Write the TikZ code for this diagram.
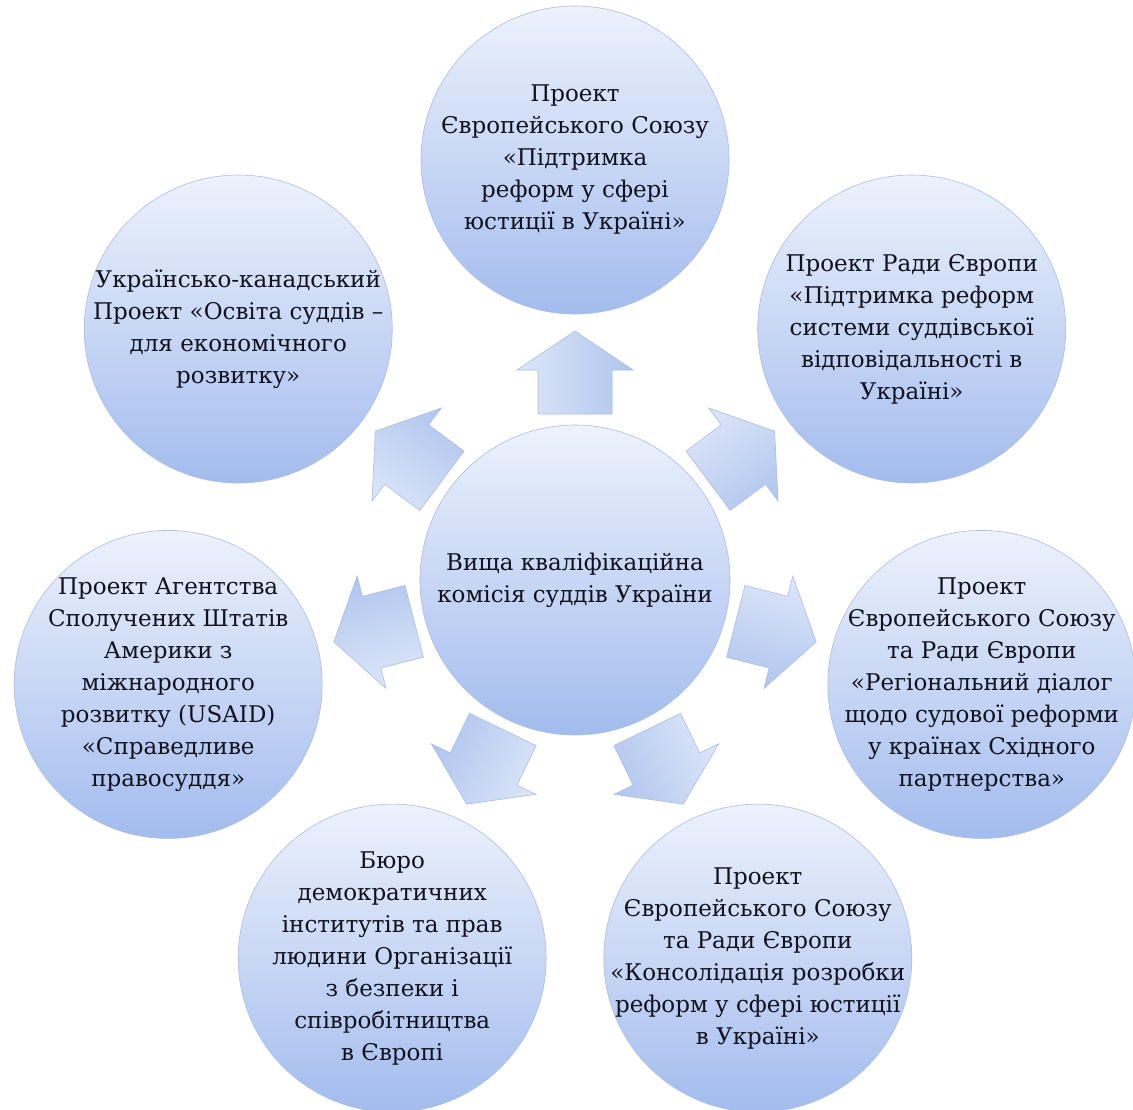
\documentclass[tikz,border=0pt]{standalone}
\usepackage{fontspec}
\setmainfont{DejaVu Serif}
\usetikzlibrary{calc}
\definecolor{ctop}{HTML}{EDF2FC}
\definecolor{cbot}{HTML}{A3BCEE}
\definecolor{cedge}{HTML}{AEBCDC}
\definecolor{atxt}{HTML}{12121E}
\definecolor{aleft}{HTML}{DDE7F9}
\definecolor{aright}{HTML}{AFC5EF}
\tikzset{
  bub/.style={circle, minimum size=308pt, inner sep=0pt, top color=ctop, bottom color=cbot,
    draw=cedge, line width=0.6pt},
  hub/.style={bub, minimum size=310pt},
  txt/.style={align=center, text=atxt, inner sep=0pt, font=\fontsize{23}{32}\selectfont},
  blockarrow/.style={left color=aleft, right color=aright, draw=cedge, line width=0.6pt, line join=miter},
}
\begin{document}
\begin{tikzpicture}[x=1pt,y=1pt]
\useasboundingbox (0,0) rectangle (1133,-1109);
\fill[white] (0,0) rectangle (1133,-1109);
\node[hub] (ctr) at (575,-580) {};
\node[bub] (p1) at ($(ctr.center)+(90:420)$) {};
\node[bub] (p2) at ($(ctr.center)+(36.7:420)$) {};
\node[bub] (p3) at ($(ctr.center)+(-14.4:420)$) {};
\node[bub] (p4) at ($(ctr.center)+(-64.2:420)$) {};
\node[bub] (p5) at ($(ctr.center)+(-115.8:420)$) {};
\node[bub] (p6) at ($(ctr.center)+(-165.6:420)$) {};
\node[bub] (p7) at ($(ctr.center)+(143.3:420)$) {};
\node[txt] (t0) at (ctr.center) {Вища кваліфікаційна\\комісія суддів України};
\node[txt] (t1) at (p1.center) {Проект\\Європейського Союзу\\«Підтримка\\реформ у сфері\\юстиції в Україні»};
\node[txt] (t2) at (p2.center) {Проект Ради Європи\\«Підтримка реформ\\системи суддівської\\відповідальності в\\Україні»};
\node[txt] (t3) at (p3.center) {Проект\\Європейського Союзу\\та Ради Європи\\«Регіональний діалог\\щодо судової реформи\\у країнах Східного\\партнерства»};
\node[txt] (t4) at (p4.center) {Проект\\Європейського Союзу\\та Ради Європи\\«Консолідація розробки\\реформ у сфері юстиції\\в Україні»};
\node[txt] (t5) at (p5.center) {Бюро\\демократичних\\інститутів та прав\\людини Організації\\з безпеки і\\співробітництва\\в Європі};
\node[txt] (t6) at (p6.center) {Проект Агентства\\Сполучених Штатів\\Америки з\\міжнародного\\розвитку (USAID)\\«Справедливе\\правосуддя»};
\node[txt] (t7) at (p7.center) {Українсько-канадський\\Проект «Освіта суддів –\\для економічного\\розвитку»};
\foreach \a in {90,36.7,-14.4,-64.2,-115.8,-165.6,143.3}{
  \begin{scope}[transform canvas={shift={(ctr.center)}, rotate=\a-90}]
    \shade[blockarrow] (-37,166) -- (-37,210) -- (-58,210) -- (0,249) -- (58,210) -- (37,210) -- (37,166) -- cycle;
  \end{scope}
}
\end{tikzpicture}
\end{document}
